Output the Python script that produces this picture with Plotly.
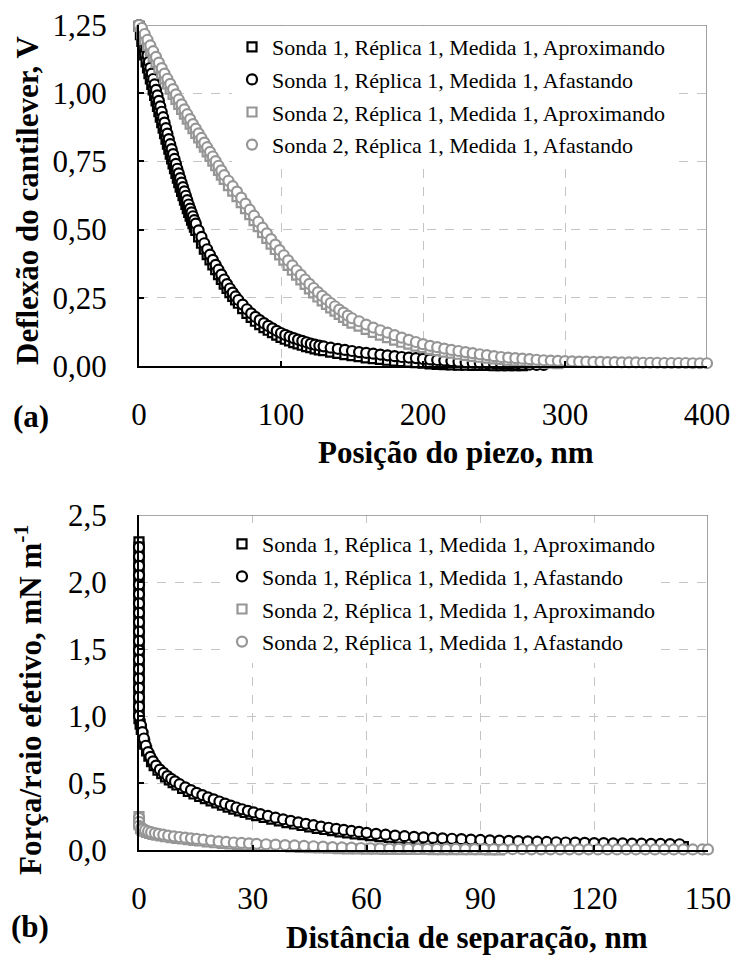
import plotly.graph_objects as go

# ---------------- (a) cantilever deflection vs piezo position ----------------
# Sonda 1 - approaching
PIEZO_S1_APROX = [0, 1, 2, 3, 4, 5, 6, 7, 8, 9, 10, 11, 12, 13, 14, 15, 16, 17, 18, 19, 20,
                  21, 22, 23, 24, 25, 26, 27, 28, 29, 30, 31, 32, 33, 34, 35, 36, 37, 38, 39, 40,
                  42, 44, 46, 48, 50, 52, 54, 56, 58, 60, 62, 64, 66, 68, 70,
                  73, 76, 79, 82, 85, 88, 91, 94, 97, 100, 103, 106, 109, 112, 115, 118, 121, 124, 127, 130,
                  135, 140, 145, 150, 155, 160, 165, 170, 175, 180, 185, 190, 195, 200, 205, 210,
                  215, 220, 225, 230, 235, 240, 245, 250, 255, 260, 265, 270]
DEFL_S1_APROX = [1.245, 1.215, 1.190, 1.165, 1.140, 1.115, 1.093, 1.072, 1.052, 1.032, 1.012,
                 0.992, 0.972, 0.952, 0.932, 0.912, 0.892, 0.872, 0.852, 0.832, 0.813,
                 0.795, 0.777, 0.759, 0.741, 0.723, 0.706, 0.689, 0.672, 0.656, 0.640,
                 0.624, 0.608, 0.592, 0.577, 0.563, 0.549, 0.535, 0.522, 0.509, 0.497,
                 0.473, 0.450, 0.428, 0.408, 0.389, 0.371, 0.353, 0.335, 0.317, 0.300, 0.284, 0.269, 0.255, 0.242, 0.230,
                 0.210, 0.193, 0.178, 0.164, 0.152, 0.141, 0.131, 0.122, 0.113, 0.105, 0.098, 0.092, 0.086, 0.081,
                 0.076, 0.071, 0.067, 0.063, 0.059, 0.056,
                 0.051, 0.046, 0.042, 0.038, 0.034, 0.030, 0.027, 0.024, 0.021, 0.018, 0.016, 0.014, 0.012, 0.010,
                 0.008, 0.006, 0.005, 0.004, 0.003, 0.003, 0.002, 0.002, 0.002, 0.001, 0.001, 0.001, 0.001, 0.001]

# Sonda 1 - retracting
PIEZO_S1_AFAST = [0, 1, 2, 3, 4, 5, 6, 7, 8, 9, 10, 11, 12, 13, 14, 15, 16, 17, 18, 19, 20,
                  21, 22, 23, 24, 25, 26, 27, 28, 29, 30, 31, 32, 33, 34, 35, 36, 37, 38, 39, 40,
                  42, 44, 46, 48, 50, 52, 54, 56, 58, 60, 62, 64, 66, 68, 70,
                  73, 76, 79, 82, 85, 88, 91, 94, 97, 100, 103, 106, 109, 112, 115, 118, 121, 124, 127, 130,
                  135, 140, 145, 150, 155, 160, 165, 170, 175, 180, 185, 190, 195, 200, 205, 210,
                  215, 220, 225, 230, 235, 240, 245, 250, 255, 260, 265, 270, 275, 280, 285]
DEFL_S1_AFAST = [1.250, 1.243, 1.232, 1.210, 1.187, 1.163, 1.139, 1.115, 1.093, 1.072, 1.052,
                 1.032, 1.012, 0.992, 0.972, 0.952, 0.932, 0.912, 0.892, 0.872, 0.852,
                 0.832, 0.813, 0.795, 0.777, 0.759, 0.741, 0.723, 0.706, 0.689, 0.672,
                 0.656, 0.640, 0.624, 0.608, 0.592, 0.577, 0.563, 0.549, 0.535, 0.522,
                 0.497, 0.473, 0.450, 0.428, 0.408, 0.389, 0.371, 0.353, 0.335, 0.317, 0.300, 0.284, 0.269, 0.255, 0.242,
                 0.225, 0.208, 0.193, 0.180, 0.168, 0.157, 0.147, 0.138, 0.129, 0.121, 0.114, 0.108, 0.102, 0.097,
                 0.092, 0.087, 0.082, 0.078, 0.075, 0.072,
                 0.067, 0.063, 0.059, 0.055, 0.051, 0.048, 0.045, 0.042, 0.039, 0.036, 0.033, 0.031, 0.029, 0.026,
                 0.024, 0.022, 0.020, 0.018, 0.016, 0.014, 0.012, 0.011, 0.010, 0.009, 0.008, 0.007, 0.006, 0.005,
                 0.005, 0.004, 0.004]

# Sonda 2 - approaching
PIEZO_S2_APROX = [0, 2, 4, 6, 8, 10, 12, 14, 16, 18, 20, 22, 24, 26, 28, 30, 32, 34, 36, 38, 40,
                  42, 44, 46, 48, 50, 52, 54, 56, 58, 60,
                  63, 66, 69, 72, 75, 78, 81, 84, 87, 90, 93, 96, 99, 102, 105, 108, 111, 114, 117, 120,
                  123, 126, 129, 132, 135, 138, 141, 144, 147, 150,
                  155, 160, 165, 170, 175, 180, 185, 190, 195, 200, 205, 210, 215, 220, 225, 230,
                  235, 240, 245, 250, 255, 260, 265, 270, 275, 280, 285, 290, 295]
DEFL_S2_APROX = [1.245, 1.217, 1.196, 1.175, 1.154, 1.133, 1.112, 1.092, 1.072, 1.053, 1.034,
                 1.015, 0.996, 0.977, 0.959, 0.941, 0.923, 0.905, 0.887, 0.870, 0.853,
                 0.836, 0.819, 0.802, 0.785, 0.768, 0.751, 0.734, 0.717, 0.700, 0.684,
                 0.661, 0.641, 0.621, 0.599, 0.577, 0.555, 0.533, 0.511, 0.489, 0.468,
                 0.447, 0.427, 0.407, 0.388, 0.369, 0.351, 0.333, 0.316, 0.299, 0.283,
                 0.268, 0.253, 0.239, 0.226, 0.213, 0.201, 0.189, 0.178, 0.167, 0.157,
                 0.146, 0.134, 0.123, 0.113, 0.104, 0.095, 0.087, 0.080, 0.073, 0.067,
                 0.061, 0.056, 0.051, 0.047, 0.043, 0.039, 0.035, 0.032, 0.029, 0.026,
                 0.024, 0.021, 0.019, 0.017, 0.015, 0.013, 0.011, 0.010, 0.009]

# Sonda 2 - retracting
PIEZO_S2_AFAST = [0, 2, 4, 6, 8, 10, 12, 14, 16, 18, 20, 22, 24, 26, 28, 30, 32, 34, 36, 38, 40,
                  42, 44, 46, 48, 50, 52, 54, 56, 58, 60,
                  63, 66, 69, 72, 75, 78, 81, 84, 87, 90, 93, 96, 99, 102, 105, 108, 111, 114, 117, 120,
                  123, 126, 129, 132, 135, 138, 141, 144, 147, 150,
                  155, 160, 165, 170, 175, 180, 185, 190, 195, 200, 205, 210, 215, 220, 225, 230,
                  235, 240, 245, 250, 255, 260, 265, 270, 275, 280, 285, 290, 295, 300, 305, 310,
                  315, 320, 325, 330, 335, 340, 345, 350, 355, 360, 365, 370, 375, 380, 385, 390, 395, 400]
DEFL_S2_AFAST = [1.250, 1.239, 1.217, 1.196, 1.175, 1.154, 1.133, 1.112, 1.092, 1.072, 1.053,
                 1.034, 1.015, 0.996, 0.977, 0.959, 0.941, 0.923, 0.905, 0.887, 0.870,
                 0.853, 0.836, 0.819, 0.802, 0.785, 0.768, 0.751, 0.734, 0.717, 0.700,
                 0.679, 0.659, 0.639, 0.617, 0.595, 0.573, 0.551, 0.529, 0.507, 0.486,
                 0.465, 0.445, 0.425, 0.406, 0.387, 0.369, 0.351, 0.334, 0.317, 0.301,
                 0.286, 0.271, 0.257, 0.244, 0.231, 0.219, 0.207, 0.196, 0.185, 0.175,
                 0.164, 0.152, 0.141, 0.131, 0.122, 0.113, 0.104, 0.096, 0.088,
                 0.080, 0.074, 0.069, 0.064, 0.059, 0.055, 0.051, 0.047, 0.043, 0.040,
                 0.036, 0.033, 0.031, 0.029, 0.027, 0.025, 0.023, 0.021, 0.020, 0.019,
                 0.018, 0.017, 0.016, 0.016, 0.015, 0.015, 0.014, 0.014, 0.013, 0.013,
                 0.013, 0.012, 0.012, 0.012, 0.011, 0.011, 0.011, 0.011, 0.010, 0.010, 0.010]

# ---------------- (b) force / effective radius vs separation ----------------
SEP_S1_APROX = [0, 0, 0, 0, 0, 0, 0, 0, 0, 0, 0, 0, 0, 0, 0, 0, 0,
                0, 0, 0, 0, 0, 0, 0, 0, 0, 0, 0, 0, 0, 0, 0, 0, 0,
                0.3, 0.6, 1.0, 1.5, 2.0, 2.6, 3.3, 4.0, 5.0, 6.0, 7.0, 8.0, 9.0, 10.0,
                11.5, 13.0, 14.5, 16.0, 17.5, 19.0, 20.5, 22.0, 23.5, 25.0, 26.5, 28.0, 29.5,
                31, 33, 35, 37, 39, 41, 43, 45, 47, 49, 51, 53, 55, 57, 59, 61,
                63.5, 66, 68.5, 71, 73.5, 76, 78.5, 81, 83.5, 86, 88.5, 91, 93.5, 96, 98.5, 101,
                103.5, 106, 108.5, 111, 113.5, 116, 118.5, 121, 123.5, 126, 128.5, 131, 133.5,
                136, 138.5, 141, 143.5]
FORCE_S1_APROX = [2.30, 2.26, 2.22, 2.18, 2.14, 2.10, 2.06, 2.02, 1.98, 1.94, 1.90, 1.86, 1.82, 1.78,
                  1.74, 1.70, 1.66, 1.62, 1.58, 1.54, 1.50, 1.46, 1.42, 1.38, 1.34, 1.30, 1.26, 1.22,
                  1.18, 1.14, 1.10, 1.06, 1.02, 0.98,
                  0.94, 0.90, 0.85, 0.79, 0.74, 0.70, 0.66, 0.63, 0.595, 0.57, 0.545, 0.523, 0.503, 0.485,
                  0.460, 0.438, 0.418, 0.400, 0.383, 0.367, 0.351, 0.335, 0.320, 0.305, 0.292, 0.280, 0.268,
                  0.257, 0.243, 0.230, 0.217, 0.205, 0.194, 0.183, 0.172, 0.162, 0.153, 0.144, 0.136,
                  0.128, 0.121, 0.114, 0.107,
                  0.100, 0.094, 0.088, 0.083, 0.079, 0.075, 0.071, 0.068, 0.065, 0.062, 0.059, 0.056,
                  0.053, 0.051, 0.049, 0.047, 0.045, 0.043, 0.041, 0.039, 0.038, 0.036, 0.035, 0.034,
                  0.033, 0.032, 0.031, 0.030, 0.029, 0.028, 0.027, 0.026, 0.025]

SEP_S1_AFAST = [0, 0, 0, 0, 0, 0, 0, 0, 0, 0, 0, 0, 0, 0, 0, 0, 0, 0, 0,
                0.5, 0.9, 1.3, 1.8, 2.4, 3.0, 3.7, 4.5, 5.5, 6.5, 7.5, 8.5, 9.5,
                10.7, 12.2, 13.7, 15.2, 16.7, 18.2, 19.7, 21.2, 22.7, 24.2, 25.7, 27.2, 28.7, 30.2,
                32, 34, 36, 38, 40, 42, 44, 46, 48, 50, 52, 54, 56, 58, 60,
                62.5, 65, 67.5, 70, 72.5, 75, 77.5, 80, 82.5, 85, 87.5, 90, 92.5, 95, 97.5, 100,
                102.5, 105, 107.5, 110, 112.5, 115, 117.5, 120, 122.5, 125, 127.5, 130, 132.5,
                135, 137.5, 140, 142.5]
FORCE_S1_AFAST = [2.26, 2.19, 2.12, 2.05, 1.98, 1.91, 1.84, 1.77, 1.70, 1.63, 1.56, 1.49, 1.42,
                  1.35, 1.28, 1.21, 1.14, 1.07, 1.00,
                  0.931, 0.880, 0.832, 0.778, 0.731, 0.695, 0.661, 0.630, 0.600, 0.575, 0.552, 0.531, 0.512,
                  0.491, 0.468, 0.447, 0.427, 0.410, 0.393, 0.378, 0.362, 0.346, 0.331, 0.317, 0.304,
                  0.292, 0.281,
                  0.268, 0.254, 0.241, 0.229, 0.217, 0.206, 0.195, 0.185, 0.175, 0.166, 0.158, 0.150,
                  0.142, 0.135, 0.128,
                  0.120, 0.114, 0.108, 0.103, 0.098, 0.094, 0.090, 0.087, 0.084, 0.081, 0.078, 0.075,
                  0.072, 0.070, 0.068, 0.066, 0.064, 0.062, 0.060, 0.058, 0.056, 0.055, 0.053, 0.052,
                  0.051, 0.050, 0.049, 0.048, 0.047, 0.046, 0.045, 0.044, 0.043]

SEP_S2_APROX = [0, 0, 0,
                0.4, 0.8, 1.3, 2.0, 2.8, 3.7, 4.7, 5.8, 7.0, 8.5, 10, 11.5, 13, 14.5, 16,
                18, 20, 22, 24, 26, 28, 30,
                32.5, 35, 37.5, 40, 42.5, 45, 47.5, 50, 52.5, 55, 57.5, 60, 62.5, 65, 67.5, 70,
                72.5, 75, 77.5, 80, 82.5, 85, 87.5, 90, 92.5, 95, 97.5, 100, 102.5, 105, 107.5,
                110, 112.5, 115, 117.5, 120, 122.5, 125, 127.5, 130, 132.5, 135, 137.5, 140,
                142.5, 145, 147.5, 150]
FORCE_S2_APROX = [0.25, 0.22, 0.19,
                  0.159, 0.149, 0.141, 0.132, 0.124, 0.117, 0.111, 0.105, 0.099, 0.093, 0.087,
                  0.082, 0.077, 0.072, 0.068,
                  0.061, 0.054, 0.050, 0.046, 0.042, 0.039, 0.036,
                  0.032, 0.029, 0.026, 0.023, 0.020, 0.017, 0.015, 0.013, 0.011, 0.009, 0.008,
                  0.007, 0.006, 0.005, 0.005, 0.004, 0.004, 0.004, 0.003, 0.003, 0.003, 0.002,
                  0.002, 0.002, 0.001, 0.000, -0.001, -0.002, -0.002, -0.003, -0.003,
                  -0.003, -0.003, -0.003, -0.003, -0.003, -0.003, -0.003, -0.003, -0.003,
                  -0.003, -0.003, -0.003, -0.003, -0.003, -0.003, -0.003, -0.003]

SEP_S2_AFAST = [0, 0, 0,
                0.6, 1.0, 1.6, 2.4, 3.2, 4.2, 5.2, 6.4, 7.7, 9.2, 10.7, 12.2, 13.7, 15.2,
                17, 19, 21, 23, 25, 27, 29, 31,
                33.5, 36, 38.5, 41, 43.5, 46, 48.5, 51, 53.5, 56, 58.5, 61, 63.5, 66, 68.5, 71,
                73.5, 76, 78.5, 81, 83.5, 86, 88.5, 91, 93.5, 96, 98.5, 101, 103.5, 106, 108.5,
                111, 113.5, 116, 118.5, 121, 123.5, 126, 128.5, 131, 133.5, 136, 138.5, 141,
                143.5, 146, 148.5, 150]
FORCE_S2_AFAST = [0.24, 0.21, 0.18,
                  0.166, 0.158, 0.149, 0.140, 0.133, 0.126, 0.120, 0.114, 0.108, 0.102, 0.097,
                  0.092, 0.087, 0.083,
                  0.077, 0.070, 0.064, 0.060, 0.056, 0.053, 0.050, 0.046,
                  0.043, 0.040, 0.037, 0.034, 0.031, 0.028, 0.025, 0.022, 0.019, 0.017,
                  0.015, 0.013, 0.012, 0.011, 0.010, 0.010, 0.009, 0.009, 0.008, 0.008,
                  0.008, 0.007, 0.007, 0.007, 0.006, 0.006, 0.006, 0.006, 0.005, 0.005,
                  0.005, 0.005, 0.005, 0.005, 0.005, 0.004, 0.004, 0.004, 0.004, 0.004,
                  0.004, 0.004, 0.004, 0.004, 0.004, 0.004, 0.004, 0.004]

LEGEND_NAMES = ["Sonda 1, Réplica 1, Medida 1, Aproximando",
                "Sonda 1, Réplica 1, Medida 1, Afastando",
                "Sonda 2, Réplica 1, Medida 1, Aproximando",
                "Sonda 2, Réplica 1, Medida 1, Afastando"]

TOP_XTICKS = [0, 100, 200, 300, 400]
TOP_YTICKS = [0, 0.25, 0.5, 0.75, 1.0, 1.25]
BOT_XTICKS = [0, 30, 60, 90, 120, 150]
BOT_YTICKS = [0, 0.5, 1.0, 1.5, 2.0, 2.5]

# ---------------- styling ----------------
FONT = "'Liberation Serif', 'Times New Roman', Times, serif"
BLACK = "#000000"
GRAY = "#969696"
GRID = "#c4c4c4"
FRAME = "#8a8a8a"
W, H = 736, 956


def px_x(p):
    return p / W


def px_y(p):
    return 1 - p / H


fig = go.Figure()

series_top = [
    (PIEZO_S1_APROX, DEFL_S1_APROX, "square", BLACK),
    (PIEZO_S1_AFAST, DEFL_S1_AFAST, "circle", BLACK),
    (PIEZO_S2_APROX, DEFL_S2_APROX, "square", GRAY),
    (PIEZO_S2_AFAST, DEFL_S2_AFAST, "circle", GRAY),
]
series_bot = [
    (SEP_S1_APROX, FORCE_S1_APROX, "square", BLACK),
    (SEP_S1_AFAST, FORCE_S1_AFAST, "circle", BLACK),
    (SEP_S2_APROX, FORCE_S2_APROX, "square", GRAY),
    (SEP_S2_AFAST, FORCE_S2_AFAST, "circle", GRAY),
]


def marker(symbol, color):
    size = 9 if symbol == "square" else 10
    return dict(symbol=symbol, size=size, color="white",
                line=dict(color=color, width=2.2))


for i, (x, y, sym, col) in enumerate(series_top):
    fig.add_trace(go.Scatter(x=x, y=y, xaxis="x", yaxis="y", mode="markers",
                             name=LEGEND_NAMES[i], legend="legend", legendgroup=f"a{i}",
                             marker=marker(sym, col), cliponaxis=False, hoverinfo="skip"))
for i, (x, y, sym, col) in enumerate(series_bot):
    fig.add_trace(go.Scatter(x=x, y=y, xaxis="x2", yaxis="y2", mode="markers",
                             name=LEGEND_NAMES[i], legend="legend2", legendgroup=f"b{i}",
                             marker=marker(sym, col), cliponaxis=False, hoverinfo="skip"))

axis_common = dict(showgrid=True, gridcolor=GRID, gridwidth=1.2, griddash="dash",
                   showline=True, linecolor=BLACK, linewidth=2, zeroline=False,
                   ticks="inside", ticklen=5, tickwidth=1.5, tickcolor=BLACK,
                   tickfont=dict(family=FONT, size=31, color=BLACK), automargin=False)

fig.update_layout(
    xaxis=dict(axis_common, domain=[px_x(139), px_x(707)], anchor="y", range=[0, 400],
               tickvals=TOP_XTICKS, tickformat="d", ticklabelstandoff=20),
    yaxis=dict(axis_common, domain=[px_y(366), px_y(25)], anchor="x", range=[0, 1.25],
               tickvals=TOP_YTICKS, tickformat=".2f", ticklabelstandoff=24),
    xaxis2=dict(axis_common, domain=[px_x(139), px_x(708)], anchor="y2", range=[0, 150],
                tickvals=BOT_XTICKS, tickformat="d", ticklabelstandoff=20),
    yaxis2=dict(axis_common, domain=[px_y(850), px_y(515)], anchor="x2", range=[0, 2.5],
                tickvals=BOT_YTICKS, tickformat=".1f", ticklabelstandoff=24),
)

# gray frame on top and right sides of each panel
frame_lines = [
    ("x", "y", 0, 1.25, 400, 1.25), ("x", "y", 400, 0, 400, 1.25),
    ("x2", "y2", 0, 2.5, 150, 2.5), ("x2", "y2", 150, 0, 150, 2.5),
]
for xr, yr, x0, y0, x1, y1 in frame_lines:
    fig.add_shape(type="line", xref=xr, yref=yr, x0=x0, y0=y0, x1=x1, y1=y1,
                  line=dict(color=FRAME, width=1.6), layer="between")

legend_common = dict(bgcolor="white", borderwidth=0, xanchor="left", yanchor="top",
                     font=dict(family=FONT, size=22, color=BLACK),
                     traceorder="grouped", tracegroupgap=1, itemclick=False)

fig.update_layout(
    legend=dict(legend_common, x=px_x(232), y=px_y(26)),
    legend2=dict(legend_common, x=px_x(222), y=px_y(523)),
)

title_font = dict(family=FONT, size=31, color=BLACK)
annotations = [
    dict(text="<b>Deflexão do cantilever, V</b>", x=px_x(27), y=px_y(200), textangle=-90),
    dict(text="<b>Posição do piezo, nm</b>", x=px_x(456), y=px_y(452), textangle=0),
    dict(text="<b>(a)</b>", x=px_x(31), y=px_y(416), textangle=0),
    dict(text="<b>Força/raio efetivo, mN m<sup>-1</sup></b>", x=px_x(28), y=px_y(700), textangle=-90),
    dict(text="<b>Distância de separação, nm</b>", x=px_x(467), y=px_y(937), textangle=0),
    dict(text="<b>(b)</b>", x=px_x(30), y=px_y(926), textangle=0),
]
for a in annotations:
    fig.add_annotation(xref="paper", yref="paper", showarrow=False,
                       xanchor="center", yanchor="middle", font=title_font, **a)

fig.update_layout(
    width=W, height=H,
    margin=dict(l=0, r=0, t=0, b=0),
    paper_bgcolor="white", plot_bgcolor="white",
    separators=", ",
    showlegend=True,
)

fig.write_html("out.html")
